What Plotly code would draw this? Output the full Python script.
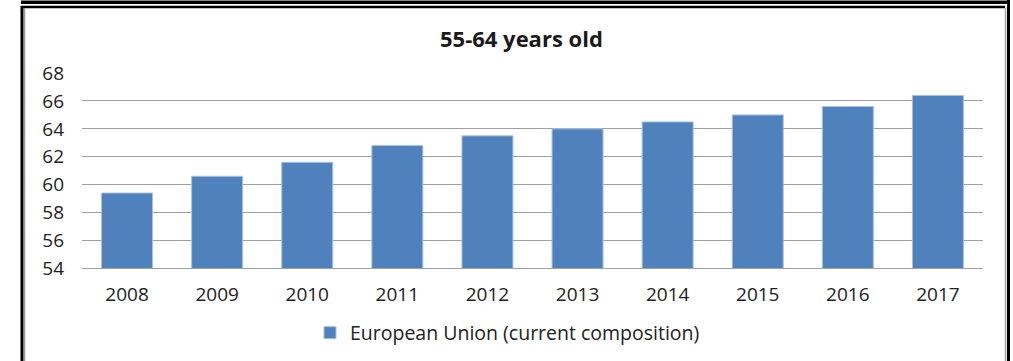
import plotly.graph_objects as go

W, H = 1013, 361

years = ["2008", "2009", "2010", "2011", "2012", "2013", "2014", "2015", "2016", "2017"]
eu_values = [59.4, 60.6, 61.6, 62.8, 63.5, 64.0, 64.5, 65.0, 65.6, 66.4]
y_ticks = [54, 56, 58, 60, 62, 64, 66, 68]
series_name = "European Union (current composition)"
chart_title = "55-64 years old"

FONT = "Open Sans"
BAR = "#4F81BD"
GRID = "#a0a0a0"

def px(x):
    return x / W

def py(y):
    return 1 - y / H

fig = go.Figure()
fig.add_trace(go.Bar(
    x=years, y=eu_values, name=series_name,
    marker=dict(color=BAR, line=dict(color="#a9c1e0", width=1)),
    showlegend=True,
))

shapes = []
def line(x0, y0, x1, y1, color, width):
    shapes.append(dict(type="line", xref="paper", yref="paper",
                       x0=px(x0), y0=py(y0), x1=px(x1), y1=py(y1),
                       line=dict(color=color, width=width)))

# outer frame pieces
line(21, 0.5, 1010, 0.5, "#888888", 1)
line(21, 2.5, 1010, 2.5, "#000000", 3)
line(21, 7, 1005, 7, "#000000", 2.5)
line(22, 6, 22, 361, "#000000", 3)
line(24.5, 8, 24.5, 361, "#9a9a9a", 1.5)
line(1008.5, 0, 1008.5, 361, "#000000", 3)
line(1005.5, 8, 1005.5, 361, "#a0a0a0", 1.5)

fig.update_layout(
    width=W, height=H,
    margin=dict(l=0, r=0, t=0, b=0, pad=0, autoexpand=False),
    paper_bgcolor="white", plot_bgcolor="white",
    font=dict(family=FONT, size=19, color="#222222"),
    bargap=0.434,
    shapes=shapes,
    annotations=[dict(text="<b>" + chart_title + "</b>", xref="paper", yref="paper",
                      x=px(521), y=py(38), xanchor="center", yanchor="middle",
                      showarrow=False, font=dict(family=FONT, size=22, color="#1a1a1a"))],
    legend=dict(orientation="h", x=px(310), y=py(333), xanchor="left", yanchor="middle",
                font=dict(family=FONT, size=19.5, color="#222222"),
                itemwidth=30, bgcolor="rgba(0,0,0,0)"),
    xaxis=dict(domain=[px(82), px(983)], showgrid=False, showline=True, automargin=False,
               linecolor=GRID, linewidth=1, ticks="", ticklabelstandoff=9,
               tickfont=dict(family=FONT, size=19, color="#222222")),
    yaxis=dict(domain=[py(268.3), py(73.1)], range=[54, 68], tickvals=y_ticks, automargin=False,
               showgrid=True, gridcolor=GRID, gridwidth=1, zeroline=False,
               showline=False, ticks="", ticklabelstandoff=17,
               tickfont=dict(family=FONT, size=19, color="#222222")),
)

fig.write_html("out.html")
